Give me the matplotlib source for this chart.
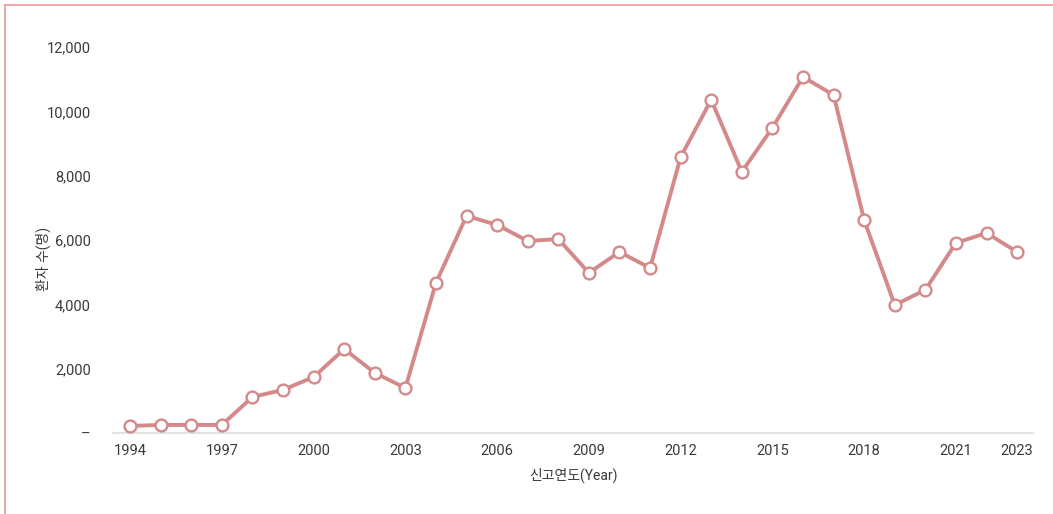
import numpy as np
import matplotlib.pyplot as plt
from matplotlib.lines import Line2D

plt.rcParams['font.family'] = ['Roboto', 'Noto Sans CJK KR', 'DejaVu Sans']

years = list(range(1994, 2024))
patients = [220, 250, 250, 250, 1120, 1340, 1740, 2610, 1870, 1400,
            4670, 6750, 6470, 5970, 6030, 4980, 5630, 5130, 8580, 10360,
            8120, 9490, 11070, 10510, 6620, 3980, 4450, 5910, 6220, 5630]
xticks = [1994, 1997, 2000, 2003, 2006, 2009, 2012, 2015, 2018, 2021, 2023]
yticks = [0, 2000, 4000, 6000, 8000, 10000, 12000]
ytick_labels = ['–', '2,000', '4,000', '6,000', '8,000', '10,000', '12,000']

line_col = '#D4898A'
text_col = '#3a3a3a'

fig = plt.figure(figsize=(10.53, 5.14), dpi=100)
ax = fig.add_axes([0.1073, 0.1576, 0.8737, 0.7884])

ax.plot(years, patients, color=line_col, lw=2.8, marker='o', ms=8.5,
        mfc='white', mec=line_col, mew=1.7, clip_on=False, zorder=3)

ax.set_xlim(1993.44, 2023.52)
ax.set_ylim(0, 12600)
ax.set_xticks(xticks)
ax.set_yticks(yticks)
ax.set_yticklabels(ytick_labels)
ax.tick_params(length=0, labelsize=10.5, colors=text_col)
ax.tick_params(axis='y', pad=16)
ax.tick_params(axis='x', pad=8)

for s in ['top', 'right', 'left']:
    ax.spines[s].set_visible(False)
ax.spines['bottom'].set_color('#dddddd')
ax.spines['bottom'].set_linewidth(1.2)

ax.set_xlabel('신고연도(Year)', fontsize=10, color=text_col)
ax.set_ylabel('환자 수(명)', fontsize=10, color=text_col)
ax.xaxis.set_label_coords(0.5, -0.085)
ax.yaxis.set_label_coords(-0.067, 0.43)

# pink frame on top and left edge
fig.add_artist(Line2D([5/1053, 1], [1 - 5/514, 1 - 5/514], color='#E89A9A', lw=1.2))
fig.add_artist(Line2D([5/1053, 5/1053], [0, 1 - 5/514], color='#E89A9A', lw=1.2))

fig.savefig('out.png', dpi=100, facecolor='white')
